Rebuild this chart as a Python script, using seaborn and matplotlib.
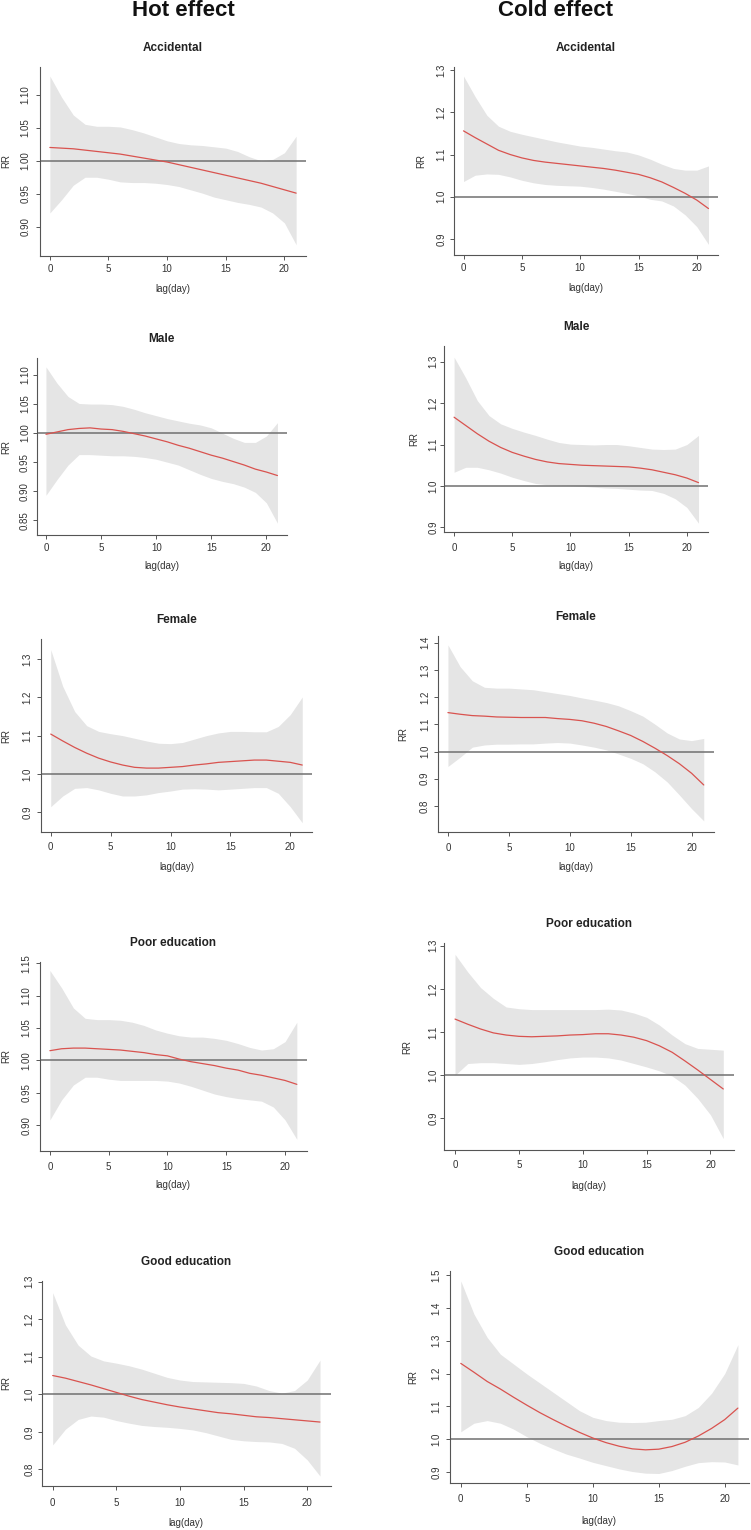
import numpy as np
import pandas as pd
import seaborn as sns
import matplotlib
matplotlib.use("Agg")
from matplotlib import pyplot as plt
from matplotlib.ticker import FormatStrFormatter

sns.set_style("ticks")
plt.rcParams['font.family'] = ['Liberation Sans', 'DejaVu Sans']

# lag days
lag = list(range(22))

# hot effect - accidental
hot_acc_fit = [1.020, 1.019, 1.018, 1.016, 1.014, 1.012, 1.010, 1.007, 1.004, 1.001, 0.998,
               0.994, 0.990, 0.986, 0.982, 0.978, 0.974, 0.970, 0.966, 0.961, 0.956, 0.951]
hot_acc_hi = [1.128, 1.096, 1.069, 1.055, 1.052, 1.052, 1.051, 1.047, 1.042, 1.036, 1.030,
              1.026, 1.024, 1.023, 1.021, 1.019, 1.014, 1.006, 1.000, 1.002, 1.012, 1.037]
hot_acc_lo = [0.921, 0.941, 0.963, 0.975, 0.975, 0.972, 0.968, 0.967, 0.967, 0.966, 0.964,
              0.961, 0.956, 0.951, 0.945, 0.941, 0.937, 0.934, 0.930, 0.921, 0.906, 0.873]

# cold effect - accidental
cold_acc_fit = [1.156, 1.140, 1.125, 1.110, 1.100, 1.092, 1.086, 1.082, 1.079, 1.076, 1.073,
                1.070, 1.067, 1.063, 1.058, 1.053, 1.045, 1.035, 1.022, 1.008, 0.992, 0.972]
cold_acc_hi = [1.286, 1.237, 1.193, 1.167, 1.155, 1.148, 1.142, 1.136, 1.130, 1.125, 1.120,
               1.117, 1.113, 1.109, 1.106, 1.099, 1.089, 1.077, 1.067, 1.063, 1.063, 1.073]
cold_acc_lo = [1.036, 1.051, 1.054, 1.053, 1.047, 1.039, 1.033, 1.029, 1.027, 1.026, 1.025,
               1.022, 1.018, 1.013, 1.008, 1.002, 0.994, 0.990, 0.978, 0.957, 0.929, 0.887]

# hot effect - male
hot_male_fit = [0.998, 1.002, 1.006, 1.008, 1.009, 1.007, 1.006, 1.003, 0.999, 0.995, 0.990,
                0.985, 0.979, 0.974, 0.968, 0.962, 0.957, 0.951, 0.945, 0.938, 0.933, 0.927]
hot_male_hi = [1.114, 1.086, 1.063, 1.051, 1.050, 1.050, 1.049, 1.046, 1.041, 1.035, 1.030,
               1.025, 1.021, 1.017, 1.014, 1.009, 1.000, 0.991, 0.984, 0.984, 0.995, 1.018]
hot_male_lo = [0.893, 0.920, 0.945, 0.963, 0.963, 0.962, 0.961, 0.961, 0.960, 0.958, 0.955,
               0.950, 0.945, 0.937, 0.929, 0.922, 0.917, 0.913, 0.907, 0.898, 0.880, 0.845]

# cold effect - male
cold_male_fit = [1.166, 1.146, 1.126, 1.108, 1.093, 1.081, 1.072, 1.064, 1.058, 1.054, 1.052,
                 1.050, 1.049, 1.048, 1.047, 1.046, 1.043, 1.039, 1.033, 1.027, 1.019, 1.008]
cold_male_hi = [1.311, 1.261, 1.206, 1.170, 1.150, 1.139, 1.130, 1.122, 1.113, 1.105, 1.101,
                1.100, 1.099, 1.100, 1.100, 1.097, 1.093, 1.089, 1.088, 1.089, 1.100, 1.122]
cold_male_lo = [1.033, 1.045, 1.045, 1.039, 1.031, 1.021, 1.013, 1.006, 1.003, 1.002, 1.001,
                0.999, 0.997, 0.995, 0.994, 0.992, 0.990, 0.989, 0.982, 0.969, 0.948, 0.910]

# hot effect - female
hot_fem_fit = [1.104, 1.086, 1.069, 1.054, 1.041, 1.031, 1.023, 1.017, 1.015, 1.015, 1.017,
               1.019, 1.023, 1.026, 1.030, 1.032, 1.034, 1.036, 1.036, 1.033, 1.030, 1.023]
hot_fem_hi = [1.325, 1.229, 1.163, 1.126, 1.111, 1.105, 1.100, 1.093, 1.086, 1.080, 1.079,
              1.082, 1.091, 1.100, 1.107, 1.111, 1.111, 1.110, 1.110, 1.124, 1.155, 1.201]
hot_fem_lo = [0.914, 0.942, 0.962, 0.964, 0.958, 0.949, 0.942, 0.942, 0.945, 0.951, 0.955,
              0.960, 0.961, 0.960, 0.958, 0.960, 0.962, 0.964, 0.964, 0.949, 0.914, 0.872]

# cold effect - female
cold_fem_fit = [1.143, 1.137, 1.132, 1.130, 1.127, 1.126, 1.125, 1.125, 1.125, 1.121, 1.118,
                1.113, 1.104, 1.092, 1.076, 1.059, 1.037, 1.012, 0.985, 0.955, 0.920, 0.877]
cold_fem_hi = [1.392, 1.312, 1.260, 1.236, 1.233, 1.233, 1.230, 1.227, 1.220, 1.213, 1.206,
               1.197, 1.189, 1.180, 1.168, 1.150, 1.130, 1.100, 1.068, 1.046, 1.040, 1.048]
cold_fem_lo = [0.945, 0.979, 1.016, 1.024, 1.027, 1.027, 1.028, 1.028, 1.031, 1.033, 1.031,
               1.024, 1.016, 1.006, 0.991, 0.975, 0.955, 0.925, 0.888, 0.840, 0.790, 0.745]

# hot effect - poor education
hot_poor_fit = [1.015, 1.018, 1.019, 1.019, 1.018, 1.017, 1.016, 1.014, 1.012, 1.009, 1.007,
                1.002, 0.998, 0.995, 0.992, 0.988, 0.985, 0.980, 0.977, 0.973, 0.969, 0.963]
hot_poor_hi = [1.139, 1.112, 1.081, 1.065, 1.063, 1.063, 1.062, 1.059, 1.054, 1.047, 1.042,
               1.038, 1.036, 1.036, 1.034, 1.031, 1.026, 1.020, 1.016, 1.018, 1.029, 1.059]
hot_poor_lo = [0.908, 0.939, 0.962, 0.974, 0.974, 0.971, 0.969, 0.969, 0.969, 0.969, 0.968,
               0.965, 0.960, 0.954, 0.948, 0.944, 0.941, 0.939, 0.937, 0.928, 0.908, 0.878]

# cold effect - poor education
cold_poor_fit = [1.130, 1.118, 1.107, 1.098, 1.093, 1.090, 1.089, 1.090, 1.091, 1.093, 1.094,
                 1.096, 1.096, 1.093, 1.088, 1.080, 1.068, 1.053, 1.033, 1.012, 0.990, 0.968]
cold_poor_hi = [1.280, 1.239, 1.203, 1.178, 1.158, 1.154, 1.152, 1.152, 1.152, 1.152, 1.152,
                1.152, 1.153, 1.151, 1.144, 1.134, 1.116, 1.093, 1.073, 1.062, 1.060, 1.058]
cold_poor_lo = [1.000, 1.027, 1.029, 1.029, 1.027, 1.025, 1.027, 1.031, 1.036, 1.040, 1.042,
                1.042, 1.040, 1.035, 1.027, 1.019, 1.010, 0.998, 0.977, 0.946, 0.908, 0.853]

# hot effect - good education
hot_good_fit = [1.050, 1.043, 1.034, 1.025, 1.015, 1.005, 0.995, 0.986, 0.979, 0.972, 0.966,
                0.961, 0.956, 0.951, 0.948, 0.944, 0.940, 0.938, 0.935, 0.932, 0.929, 0.926]
hot_good_hi = [1.271, 1.185, 1.131, 1.102, 1.089, 1.083, 1.076, 1.067, 1.056, 1.045, 1.038,
               1.034, 1.033, 1.032, 1.031, 1.029, 1.022, 1.010, 1.003, 1.010, 1.038, 1.091]
hot_good_lo = [0.865, 0.907, 0.933, 0.942, 0.939, 0.930, 0.923, 0.917, 0.914, 0.912, 0.909,
               0.905, 0.898, 0.889, 0.880, 0.876, 0.874, 0.873, 0.869, 0.856, 0.825, 0.782]

# cold effect - good education
cold_good_fit = [1.231, 1.204, 1.176, 1.153, 1.128, 1.104, 1.081, 1.060, 1.040, 1.021, 1.004,
                 0.990, 0.979, 0.971, 0.968, 0.970, 0.978, 0.991, 1.010, 1.033, 1.060, 1.095]
cold_good_hi = [1.482, 1.381, 1.310, 1.259, 1.229, 1.199, 1.171, 1.143, 1.115, 1.087, 1.067,
                1.057, 1.052, 1.051, 1.052, 1.057, 1.061, 1.072, 1.097, 1.140, 1.200, 1.288]
cold_good_lo = [1.023, 1.049, 1.057, 1.049, 1.031, 1.008, 0.988, 0.971, 0.955, 0.943, 0.930,
                0.920, 0.910, 0.902, 0.897, 0.896, 0.905, 0.918, 0.929, 0.932, 0.931, 0.922]

titles = ["Accidental", "Accidental", "Male", "Male", "Female", "Female",
          "Poor education", "Poor education", "Good education", "Good education"]

series = [
    (hot_acc_fit, hot_acc_lo, hot_acc_hi), (cold_acc_fit, cold_acc_lo, cold_acc_hi),
    (hot_male_fit, hot_male_lo, hot_male_hi), (cold_male_fit, cold_male_lo, cold_male_hi),
    (hot_fem_fit, hot_fem_lo, hot_fem_hi), (cold_fem_fit, cold_fem_lo, cold_fem_hi),
    (hot_poor_fit, hot_poor_lo, hot_poor_hi), (cold_poor_fit, cold_poor_lo, cold_poor_hi),
    (hot_good_fit, hot_good_lo, hot_good_hi), (cold_good_fit, cold_good_lo, cold_good_hi),
]

# y ticks and format per panel
yticks = [
    [0.90, 0.95, 1.00, 1.05, 1.10], [0.9, 1.0, 1.1, 1.2, 1.3],
    [0.85, 0.90, 0.95, 1.00, 1.05, 1.10], [0.9, 1.0, 1.1, 1.2, 1.3],
    [0.9, 1.0, 1.1, 1.2, 1.3], [0.8, 0.9, 1.0, 1.1, 1.2, 1.3, 1.4],
    [0.90, 0.95, 1.00, 1.05, 1.10, 1.15], [0.9, 1.0, 1.1, 1.2, 1.3],
    [0.8, 0.9, 1.0, 1.1, 1.2, 1.3], [0.9, 1.0, 1.1, 1.2, 1.3, 1.4, 1.5],
]
yfmt = ["%.2f", "%.1f", "%.2f", "%.1f", "%.1f", "%.1f", "%.2f", "%.1f", "%.1f", "%.1f"]
ylims = [(0.856, 1.1416), (0.862, 1.308), (0.8247, 1.1287), (0.888, 1.338),
         (0.847, 1.352), (0.703, 1.4246), (0.860, 1.1525), (0.8266, 1.3056),
         (0.7555, 1.302), (0.868, 1.513)]

# plot boxes in pixels: left, top, right, bottom
boxes = [(40, 67, 306, 256), (453.7, 66.7, 718.3, 255),
         (36.7, 358.3, 286.7, 535), (444.3, 346, 708.3, 532.3),
         (40.7, 639.3, 312.3, 832.3), (437.7, 636, 714, 832.3),
         (40, 961.7, 306.7, 1151), (444.3, 943.3, 734, 1150),
         (42, 1281, 330.7, 1486), (449.7, 1270.7, 749, 1482.7)]

# label distances from the axis lines, pixels
xlab_off = [33.3, 33.3, 31, 33.7, 34.4, 34.4, 34, 36, 36.7, 38]
ylab_off = [34, 32, 30.7, 30.3, 34.7, 34.4, 34, 36.6, 35.3, 36.4]
xtick_off = [13.3, 13.3, 13.3, 16, 15, 16, 15.7, 15, 16.7, 16.3]
ytick_off = [16, 13.7, 13.4, 12.6, 14.7, 14.4, 15, 12.6, 14.4, 14.7]

W, H = 751, 1530
fig = plt.figure(figsize=(W / 100, H / 100), dpi=100)
fig.patch.set_facecolor("white")

axcol = "#555555"
txtcol = "#333333"
for i in range(10):
    l, t, r, b = boxes[i]
    w_px, h_px = r - l, b - t
    ax = fig.add_axes([l / W, 1 - b / H, w_px / W, h_px / H])
    fit, lo, hi = series[i]
    ax.fill_between(lag, lo, hi, color="#e5e5e5", linewidth=0)
    ax.axhline(1.0, color="#707070", lw=1.1)
    sns.lineplot(x=lag, y=fit, ax=ax, color="#d9534f", lw=0.9, legend=False)
    ax.set_xlim(-0.84, 21.84)
    ax.set_ylim(*ylims[i])
    ax.set_xticks([0, 5, 10, 15, 20])
    ax.set_yticks(yticks[i])
    ax.yaxis.set_major_formatter(FormatStrFormatter(yfmt[i]))
    sns.despine(ax=ax)
    for s in ["left", "bottom"]:
        ax.spines[s].set_color(axcol)
        ax.spines[s].set_linewidth(0.8)
    ax.tick_params(direction="out", length=3, width=0.7, color=axcol,
                   labelsize=7, labelcolor=txtcol)
    ax.tick_params(axis="x", pad=3 + (xtick_off[i] - 13.3) * 0.72)
    ax.tick_params(axis="y", labelrotation=90, pad=3 + (ytick_off[i] - 15) * 0.72)
    for lab in ax.get_yticklabels():
        lab.set_va("center")
    ax.set_xlabel("lag(day)", fontsize=7, color=txtcol)
    ax.set_ylabel("RR", fontsize=7, color=txtcol)
    ax.xaxis.set_label_coords(0.5, -xlab_off[i] / h_px)
    ax.xaxis.label.set_va("center")
    ax.yaxis.set_label_coords(-ylab_off[i] / w_px, 0.5)
    ax.yaxis.label.set_va("center")
    ax.text(0.5, 1 + 19 / h_px, titles[i], transform=ax.transAxes, ha="center",
            va="center", fontsize=8.5, fontweight="bold", color="#222222")

fig.text(183 / W, 1 - 10 / H, "Hot effect", ha="center", va="center",
         fontsize=16, fontweight="bold", color="#111111")
fig.text(555 / W, 1 - 10 / H, "Cold effect", ha="center", va="center",
         fontsize=16, fontweight="bold", color="#111111")

fig.savefig("out.png", dpi=100)
